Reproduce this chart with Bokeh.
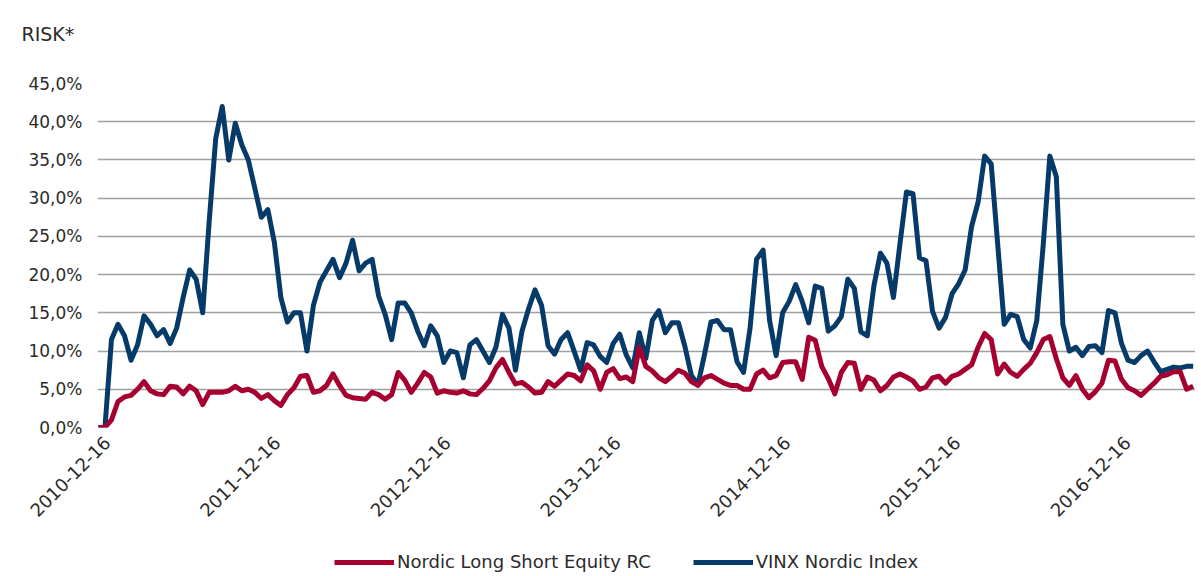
import pandas as pd
from math import pi
from bokeh.plotting import figure
from bokeh.layouts import column
from bokeh.models import (FixedTicker, Legend, LegendItem, Range1d, Title,
                          DatetimeTickFormatter)
from bokeh.embed import file_html
from bokeh.resources import INLINE

# ---------------- data (risk, % annualised), one value every 14 days -------------
dates = pd.date_range("2010-11-27", periods=169, freq="14D")

vinx_nordic = [
    0.0, 0.0, 11.5, 13.5, 12.0, 8.8, 10.8, 14.6, 13.5, 12.0,
    12.8, 11.0, 13.0, 17.0, 20.6, 19.4, 15.0, 27.0, 37.8, 42.0,
    35.0, 39.8, 37.0, 35.0, 31.3, 27.5, 28.5, 24.2, 17.0, 13.8,
    15.0, 15.0, 10.0, 16.0, 19.0, 20.5, 22.0, 19.6, 21.5, 24.5,
    20.5, 21.5, 22.0, 17.2, 14.8, 11.5, 16.3, 16.3, 15.0, 12.6,
    10.7, 13.3, 12.0, 8.5, 10.0, 9.8, 6.5, 10.8, 11.5, 10.0,
    8.5, 10.5, 14.8, 13.0, 7.5, 12.6, 15.5, 18.0, 16.0, 10.7,
    9.6, 11.5, 12.4, 10.0, 7.5, 11.1, 10.8, 9.3, 8.5, 11.0,
    12.2, 9.5, 7.8, 12.4, 9.0, 14.0, 15.3, 12.4, 13.7, 13.7,
    10.6, 6.8, 5.6, 9.5, 13.8, 14.0, 12.8, 12.8, 8.6, 7.2,
    13.0, 22.0, 23.2, 14.0, 9.4, 15.0, 16.5, 18.7, 16.5, 13.7,
    18.5, 18.2, 12.6, 13.3, 14.5, 19.4, 18.2, 12.5, 12.0, 18.5,
    22.8, 21.5, 17.0, 24.0, 30.8, 30.6, 22.2, 21.8, 15.2, 13.0,
    14.4, 17.5, 18.8, 20.6, 26.3, 29.5, 35.5, 34.5, 24.0, 13.5,
    14.8, 14.5, 11.5, 10.4, 14.0, 24.0, 35.5, 32.8, 13.5, 10.0,
    10.5, 9.4, 10.6, 10.7, 9.8, 15.3, 15.0, 11.0, 8.8, 8.5,
    9.4, 10.0, 8.6, 7.3, 7.6, 7.9, 7.8, 8.0, 8.0,
]

nordic_long_short = [
    0.0, 0.0, 1.0, 3.4, 4.0, 4.2, 5.0, 6.0, 4.8, 4.4,
    4.3, 5.4, 5.3, 4.4, 5.4, 4.8, 3.0, 4.6, 4.6, 4.6,
    4.8, 5.4, 4.8, 5.0, 4.6, 3.8, 4.3, 3.5, 2.9, 4.3,
    5.2, 6.7, 6.8, 4.6, 4.8, 5.5, 7.0, 5.5, 4.2, 3.9,
    3.8, 3.7, 4.6, 4.3, 3.7, 4.3, 7.2, 6.2, 4.6, 5.8,
    7.2, 6.6, 4.5, 4.8, 4.6, 4.5, 4.8, 4.4, 4.3, 5.1,
    6.1, 7.8, 8.9, 7.2, 5.7, 5.9, 5.3, 4.5, 4.6, 6.0,
    5.4, 6.2, 7.0, 6.8, 6.1, 8.2, 7.4, 5.0, 7.2, 7.7,
    6.4, 6.6, 6.0, 10.5, 8.0, 7.4, 6.5, 6.0, 6.7, 7.5,
    7.1, 6.0, 5.5, 6.5, 6.8, 6.3, 5.8, 5.5, 5.5, 5.0,
    5.0, 7.0, 7.5, 6.5, 6.8, 8.5, 8.6, 8.6, 6.3, 11.8,
    11.4, 8.0, 6.4, 4.4, 7.2, 8.5, 8.4, 5.0, 6.6, 6.2,
    4.8, 5.5, 6.6, 7.0, 6.6, 6.1, 5.0, 5.3, 6.5, 6.7,
    5.8, 6.7, 7.0, 7.6, 8.2, 10.5, 12.3, 11.5, 7.0, 8.3,
    7.2, 6.7, 7.6, 8.4, 9.8, 11.5, 11.9, 9.0, 6.5, 5.5,
    6.8, 5.0, 3.9, 4.7, 5.8, 8.8, 8.7, 6.3, 5.2, 4.8,
    4.2, 5.0, 5.8, 6.7, 6.9, 7.3, 7.3, 5.0, 5.4,
]

y_ticks = [0, 5, 10, 15, 20, 25, 30, 35, 40, 45]
y_tick_labels = ["0,0%", "5,0%", "10,0%", "15,0%", "20,0%",
                 "25,0%", "30,0%", "35,0%", "40,0%", "45,0%"]
x_tick_labels = ["2010-12-16", "2011-12-16", "2012-12-16", "2013-12-16",
                 "2014-12-16", "2015-12-16", "2016-12-16"]
series_names = ["Nordic Long Short Equity RC", "VINX Nordic Index"]
chart_title = "RISK*"

# ---------------- styling ----------------
RED = "#a5002f"
BLUE = "#063a68"
FONT = "DejaVu Sans"
TXT = "#2b2b2b"
LW = 5

x_start = pd.Timestamp("2010-11-25")
x_end = pd.Timestamp("2017-05-11")

p = figure(width=1195, height=542, x_axis_type="datetime",
           x_range=Range1d(x_start, x_end), y_range=Range1d(0, 45),
           output_backend="svg", toolbar_location=None,
           min_border_left=97, min_border_right=0,
           min_border_top=83, min_border_bottom=115)
p.outline_line_color = None
p.background_fill_color = "white"

r_blue = p.line(dates, vinx_nordic, line_color=BLUE, line_width=LW,
                line_join="round")
r_red = p.line(dates, nordic_long_short, line_color=RED, line_width=LW,
               line_join="round")

# y axis
p.yaxis.ticker = FixedTicker(ticks=y_ticks)
p.yaxis.major_label_overrides = {t: l for t, l in zip(y_ticks, y_tick_labels)}
p.yaxis.axis_line_color = None
p.yaxis.major_tick_line_color = None
p.yaxis.minor_tick_line_color = None
p.yaxis.major_tick_out = 0
p.yaxis.major_label_standoff = 15
p.yaxis.major_label_text_font = FONT
p.yaxis.major_label_text_font_size = "17px"
p.yaxis.major_label_text_color = TXT

# x axis
x_ticks_ms = [pd.Timestamp(s).value // 10**6 for s in x_tick_labels]
p.xaxis.ticker = FixedTicker(ticks=x_ticks_ms)
fmt = "%Y-%m-%d"
p.xaxis.formatter = DatetimeTickFormatter(
    milliseconds=fmt, seconds=fmt, minsec=fmt, minutes=fmt, hourmin=fmt,
    hours=fmt, days=fmt, months=fmt, years=fmt)
p.xaxis.major_label_orientation = pi / 4
p.xaxis.axis_line_color = None
p.xaxis.major_tick_line_color = None
p.xaxis.minor_tick_line_color = None
p.xaxis.major_tick_out = 0
p.xaxis.major_label_standoff = 12
p.xaxis.major_label_text_font = FONT
p.xaxis.major_label_text_font_size = "18px"
p.xaxis.major_label_text_color = TXT

# grid
p.xgrid.grid_line_color = None
p.ygrid.grid_line_color = "#a0a0a0"
p.ygrid.grid_line_width = 1.5

# title: an empty spacer panel next to the frame, then the real title above it
p.title.text = ""
p.title.standoff = 0
p.title.text_font_size = "1px"
p.add_layout(Title(text=" ", text_font_size="1px", standoff=36), "above")
p.add_layout(Title(text=chart_title, align="left", offset=-76, standoff=0,
                   text_font=FONT, text_font_size="19px",
                   text_font_style="normal", text_color=TXT), "above")

# legend strip under the chart (same series, drawn outside its visible range)
p_leg = figure(width=1195, height=30, x_axis_type="datetime",
               x_range=Range1d(x_start, x_end), y_range=Range1d(100, 101),
               output_backend="svg", toolbar_location=None, min_border=0,
               x_axis_location=None, y_axis_location=None)
p_leg.outline_line_color = None
p_leg.xgrid.visible = False
p_leg.ygrid.visible = False
leg_red = p_leg.line(dates, nordic_long_short, line_color=RED, line_width=LW)
leg_blue = p_leg.line(dates, vinx_nordic, line_color=BLUE, line_width=LW)
legend = Legend(items=[LegendItem(label=series_names[0], renderers=[leg_red]),
                       LegendItem(label=series_names[1], renderers=[leg_blue])],
                orientation="horizontal", location=(237, 0),
                glyph_width=60, glyph_height=14, label_standoff=3,
                spacing=42, padding=0, margin=0,
                border_line_color=None, background_fill_alpha=0,
                label_text_font=FONT, label_text_font_size="18px",
                label_text_color=TXT)
p_leg.add_layout(legend, "center")

layout = column(p, p_leg)
open("out.html", "w").write(file_html(layout, INLINE))
